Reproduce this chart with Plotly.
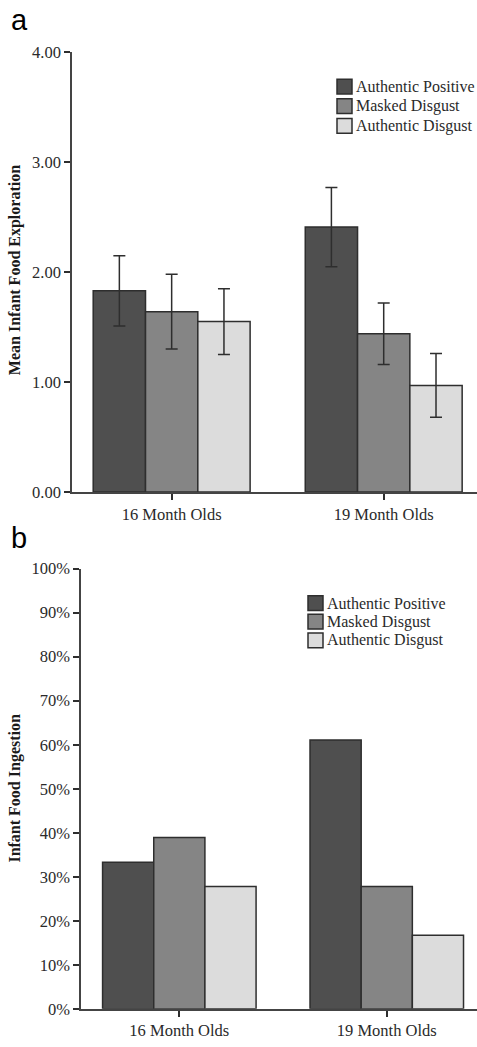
import plotly.graph_objects as go
from plotly.subplots import make_subplots

# ---- data ----
categories = ["16 Month Olds", "19 Month Olds"]
series_names = ["Authentic Positive", "Masked Disgust", "Authentic Disgust"]
series_colors = ["#4f4f4f", "#858585", "#dcdcdc"]

# Panel a: Mean Infant Food Exploration (with error bars)
exploration_means = {
    "Authentic Positive": [1.83, 2.41],
    "Masked Disgust": [1.64, 1.44],
    "Authentic Disgust": [1.55, 0.97],
}
exploration_err = {
    "Authentic Positive": [0.32, 0.36],
    "Masked Disgust": [0.34, 0.28],
    "Authentic Disgust": [0.30, 0.29],
}

# Panel b: Infant Food Ingestion (%)
ingestion_pct = {
    "Authentic Positive": [33.3, 61.1],
    "Masked Disgust": [38.9, 27.8],
    "Authentic Disgust": [27.8, 16.7],
}

a_ticks = [0, 1, 2, 3, 4]
a_ticktext = ["0.00", "1.00", "2.00", "3.00", "4.00"]
b_ticks = [0, 10, 20, 30, 40, 50, 60, 70, 80, 90, 100]
b_ticktext = ["0%", "10%", "20%", "30%", "40%", "50%", "60%", "70%", "80%", "90%", "100%"]

W, H = 477, 1047
SERIF = "Liberation Serif, Times New Roman, serif"
SANS = "Liberation Sans, Arial, sans-serif"
INK = "#2e2e2e"

def px(x):
    return x / W

def py(y):
    return 1 - y / H

fig = make_subplots(rows=2, cols=1)

for name, col in zip(series_names, series_colors):
    fig.add_trace(go.Bar(
        x=categories, y=exploration_means[name], name=name,
        marker=dict(color=col, line=dict(color=INK, width=1.5)),
        error_y=dict(type="data", array=exploration_err[name], visible=True,
                     color=INK, thickness=1.5, width=6),
        showlegend=False,
    ), row=1, col=1)

for name, col in zip(series_names, series_colors):
    fig.add_trace(go.Bar(
        x=categories, y=ingestion_pct[name], name=name,
        marker=dict(color=col, line=dict(color=INK, width=1.5)),
        showlegend=False,
    ), row=2, col=1)

axis_common = dict(showgrid=False, zeroline=False, showline=True,
                   linecolor="#444", linewidth=1.5, ticks="outside",
                   ticklen=6, tickwidth=1.5, tickcolor=INK,
                   tickfont=dict(family=SERIF, size=16.5, color="#2a2a2a"))

fig.update_layout(
    width=W, height=H, margin=dict(l=0, r=0, t=0, b=0),
    paper_bgcolor="white", plot_bgcolor="white",
    barmode="group", bargap=0.26, bargroupgap=0,
    font=dict(family=SERIF),
    xaxis=dict(domain=[px(72), 1], range=[-0.47, 1.44], **axis_common),
    yaxis=dict(domain=[py(492), py(44)], range=[0, 4], tickmode="array",
               tickvals=a_ticks, ticktext=a_ticktext, **axis_common),
    xaxis2=dict(domain=[px(81), 1], range=[-0.474, 1.435], **axis_common),
    yaxis2=dict(domain=[py(1018.3), py(570)], range=[0, 100], tickmode="array",
                tickvals=b_ticks, ticktext=b_ticktext, **axis_common),
)

annotations = [
    dict(text="a", x=px(9), y=py(30), xref="paper", yref="paper",
         xanchor="left", yanchor="bottom", showarrow=False,
         font=dict(family=SANS, size=29, color="black")),
    dict(text="b", x=px(9), y=py(557), xref="paper", yref="paper",
         xanchor="left", yanchor="bottom", showarrow=False,
         font=dict(family=SANS, size=29, color="black")),
    dict(text="<b>Mean Infant Food Exploration</b>", x=px(15), y=py(266),
         xref="paper", yref="paper", textangle=-90, showarrow=False,
         xanchor="center", yanchor="middle",
         font=dict(family=SERIF, size=16, color="#1a1a1a")),
    dict(text="<b>Infant Food Ingestion</b>", x=px(15), y=py(794),
         xref="paper", yref="paper", textangle=-90, showarrow=False,
         xanchor="center", yanchor="middle",
         font=dict(family=SERIF, size=16, color="#1a1a1a")),
]

shapes = []
legend_specs = [
    (337, [79, 99, 119]),
    (308, [605, 624, 643]),
]
for box_x, rows_y in legend_specs:
    for name, col, yc in zip(series_names, series_colors, rows_y):
        shapes.append(dict(type="rect", xref="paper", yref="paper",
                           x0=px(box_x), x1=px(box_x + 15),
                           y0=py(yc + 7.5), y1=py(yc - 7.5),
                           fillcolor=col, line=dict(color=INK, width=1.5)))
        annotations.append(dict(text=name, x=px(box_x + 17), y=py(yc),
                                xref="paper", yref="paper", xanchor="left",
                                yanchor="middle", showarrow=False,
                                font=dict(family=SERIF, size=16, color="#2a2a2a")))

fig.update_layout(annotations=annotations, shapes=shapes)
fig.write_html(
    "out.html",
    config={"displayModeBar": False},
    post_script="document.body.style.margin='0';document.body.style.overflow='hidden';",
)
